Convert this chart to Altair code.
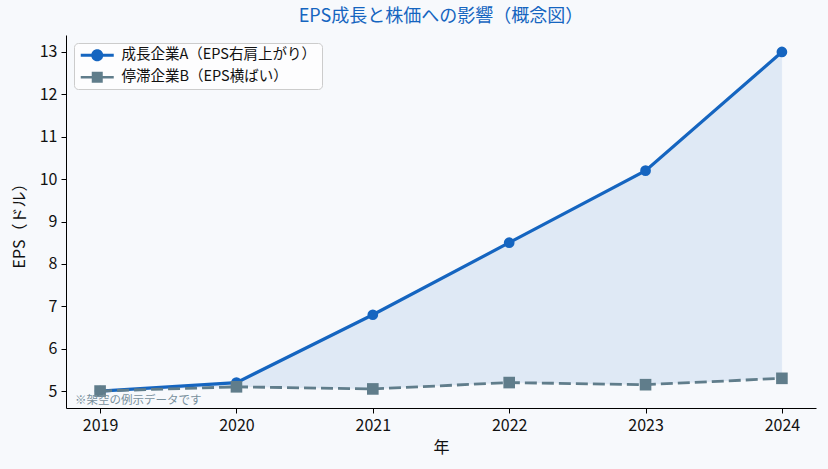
import altair as alt
import pandas as pd

# EPS per year (US dollars) for the two illustrative companies
years = [2019, 2020, 2021, 2022, 2023, 2024]
eps_growth = [5.0, 5.2, 6.8, 8.5, 10.2, 13.0]
eps_flat = [5.0, 5.1, 5.05, 5.2, 5.15, 5.3]

series_labels = ["成長企業A（EPS右肩上がり）", "停滞企業B（EPS横ばい）"]
series_colors = ["#1565c0", "#607d8b"]

title_text = "EPS成長と株価への影響（概念図）"
x_title = "年"
y_title = "EPS（ドル）"
note_text = "※架空の例示データです"

FONT = "Noto Sans CJK JP"
BG = "#f7f9fc"

wide = pd.DataFrame({"year": years, "a": eps_growth, "b": eps_flat})
long = pd.concat(
    [
        pd.DataFrame({"year": years, "eps": eps_growth, "series": series_labels[0]}),
        pd.DataFrame({"year": years, "eps": eps_flat, "series": series_labels[1]}),
    ],
    ignore_index=True,
)

x_scale = alt.Scale(domain=[2018.75, 2024.25], nice=False, zero=False)
y_scale = alt.Scale(domain=[4.6, 13.4], nice=False, zero=False)

x_axis = alt.Axis(
    values=years, format="d", grid=False, title=x_title,
    domainColor="#000000", tickColor="#000000", tickSize=5,
    labelFont=FONT, labelFontSize=16, labelColor="#111111", labelPadding=4,
    titleFont=FONT, titleFontSize=16, titleFontWeight="normal",
    titleColor="#111111", titlePadding=6,
)
y_axis = alt.Axis(
    values=list(range(5, 14)), grid=False, title=y_title,
    domainColor="#000000", tickColor="#000000", tickSize=5,
    labelFont=FONT, labelFontSize=16, labelColor="#111111", labelPadding=4,
    titleFont=FONT, titleFontSize=16, titleFontWeight="normal",
    titleColor="#111111", titlePadding=12,
)

base_wide = alt.Chart(wide)

# shaded gap between the two EPS paths
band = base_wide.mark_area(
    color="#1565c0", opacity=0.1, stroke="#1565c0", strokeOpacity=0.12, strokeWidth=1
).encode(
    x=alt.X("year:Q", scale=x_scale, axis=x_axis),
    y=alt.Y("a:Q", scale=y_scale, axis=y_axis),
    y2="b:Q",
)

line_a = base_wide.mark_line(color=series_colors[0], strokeWidth=3.2).encode(
    x="year:Q", y="a:Q"
)
pts_a = base_wide.mark_point(
    shape="circle", filled=True, size=115, color=series_colors[0], opacity=1
).encode(x="year:Q", y="a:Q")

line_b = base_wide.mark_line(
    color=series_colors[1], strokeWidth=2.8, strokeDash=[12, 5]
).encode(x="year:Q", y="b:Q")
pts_b = base_wide.mark_point(
    shape="square", filled=True, size=135, color=series_colors[1], opacity=1
).encode(x="year:Q", y="b:Q")

# legend handles: a line segment with the series marker on it
handle_a = "M-1,-0.27H5V0.27H-1Z M3.1,0 A1.1,1.1,0,1,1,0.9,0 A1.1,1.1,0,1,1,3.1,0Z"
handle_b = "M-1,-0.23H5V0.23H-1Z M1,-1H3V1H1Z"

legend_props = dict(
    title=None, orient="top-left", offset=8,
    labelFont=FONT, labelFontSize=14.5, labelColor="#111111", labelLimit=500,
    labelOffset=28, symbolSize=121, symbolStrokeWidth=0,
    rowPadding=7, padding=5,
    fillColor="#fdfdfe", strokeColor="#cccccc", cornerRadius=4,
)

legend_layer = alt.Chart(long).transform_filter("false").mark_point(
    filled=True, size=121, opacity=1
).encode(
    x="year:Q",
    y="eps:Q",
    color=alt.Color(
        "series:N",
        scale=alt.Scale(domain=series_labels, range=series_colors),
        legend=alt.Legend(**legend_props),
    ),
    shape=alt.Shape(
        "series:N",
        scale=alt.Scale(domain=series_labels, range=[handle_a, handle_b]),
        legend=alt.Legend(**legend_props),
    ),
)

note = alt.Chart(wide).transform_filter("datum.year == 2019").mark_text(
    text=note_text, font=FONT, fontSize=11.5, color="#78909c",
    align="left", baseline="alphabetic",
).encode(x=alt.value(9), y=alt.value(369))

chart = alt.layer(band, line_a, pts_a, line_b, pts_b, legend_layer, note).properties(
    width=750,
    height=373,
    padding={"left": 66, "top": 35, "right": 12, "bottom": 61},
    autosize=alt.AutoSizeParams(type="none"),
    background=BG,
    title=alt.TitleParams(
        text=title_text, font=FONT, fontSize=18, fontWeight="normal",
        color="#1565c0", anchor="middle", frame="group", offset=9,
    ),
).configure_view(stroke=None, fill=BG)

chart.save("out.html", embed_options={"renderer": "svg", "actions": False})
